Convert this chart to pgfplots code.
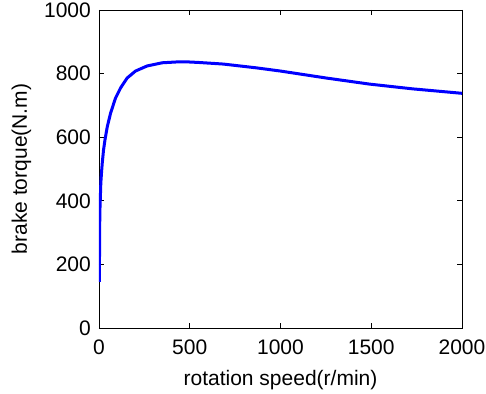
\documentclass[border=0pt]{standalone}
\usepackage{fontspec}
\setmainfont{Liberation Sans}
\usepackage{pgfplots}
\pgfplotsset{compat=1.18}
\begin{document}
\begin{tikzpicture}
\useasboundingbox (-99pt,-65pt) rectangle (387pt,328pt);
\begin{axis}[
  scale only axis,
  width=363pt, height=318pt,
  xmin=0, xmax=2000, ymin=0, ymax=1000,
  xtick={0,500,1000,1500,2000},
  ytick={0,200,400,600,800,1000},
  tick align=inside,
  major tick length=5pt,
  tick style={black, line width=0.8pt},
  axis line style={black, line width=0.9pt},
  /pgf/number format/assume math mode=true,
  /pgf/number format/1000 sep={},
  tick label style={font=\fontsize{21pt}{25pt}\selectfont, inner sep=0pt},
  xticklabel style={anchor=north, yshift=-12pt},
  yticklabel style={anchor=east, xshift=-8pt},
  label style={font=\fontsize{21pt}{25pt}\selectfont, inner sep=0pt},
  xlabel={rotation speed(r/min)},
  ylabel={brake torque(N.m)},
  xlabel style={at={(axis description cs:0.5,-0.132)}, anchor=north},
  ylabel style={at={(axis description cs:-0.186,0.5)}, anchor=south},
]
\addplot[color={rgb,255:red,0;green,0;blue,255}, line width=3pt, line join=round] coordinates {
(2,145) (3,250) (4,330) (5,370) (8,420) (10,456) (14,490) (18,519) (25,560) (33,592) (46,634) (64,676) (91,723) (119,755) (155,786) (201,808) (265,824) (348,834) (440,837) (480,837) (550,835) (685,830) (868,818) (1000,808) (1253,786) (1490,767) (1728,752) (2000,738)
};
\end{axis}
\end{tikzpicture}
\end{document}
